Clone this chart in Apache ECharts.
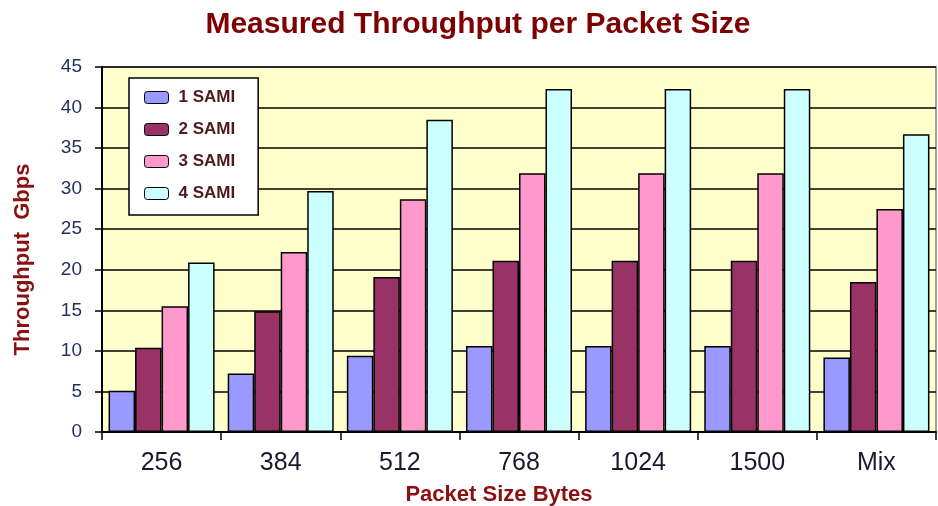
<!DOCTYPE html>
<html>
<head>
<meta charset="utf-8">
<script src="https://cdn.jsdelivr.net/npm/echarts@6/dist/echarts.min.js"></script>
<style>html,body{margin:0;padding:0;background:#fff;}#c{width:938px;height:506px;}</style>
</head>
<body>
<div id="c"></div>
<script>
const categories = ['256', '384', '512', '768', '1024', '1500', 'Mix'];
const sami1 = [5.1, 7.2, 9.4, 10.6, 10.6, 10.6, 9.2];
const sami2 = [10.4, 14.9, 19.1, 21.1, 21.1, 21.1, 18.5];
const sami3 = [15.5, 22.2, 28.7, 31.9, 31.9, 31.9, 27.5];
const sami4 = [20.9, 29.7, 38.5, 42.3, 42.3, 42.3, 36.7];
const seriesNames = ['1 SAMI', '2 SAMI', '3 SAMI', '4 SAMI'];
const colors = ['#9999FF', '#993366', '#FF99CC', '#CCFFFF'];
const allValues = [sami1, sami2, sami3, sami4];

const chart = echarts.init(document.getElementById('c'));
const font = 'Liberation Sans, Arial, sans-serif';
chart.setOption({
  animation: false,
  backgroundColor: '#ffffff',
  title: {
    text: 'Measured Throughput per Packet Size',
    left: 473, top: 5, textAlign: 'center',
    textStyle: { fontFamily: font, fontSize: 30, fontWeight: 'bold', color: '#7F0000' }
  },
  legend: {
    orient: 'vertical',
    left: 129, top: 78,
    padding: [11, 23, 13, 15],
    itemWidth: 24, itemHeight: 12, itemGap: 15,
    backgroundColor: '#ffffff',
    borderColor: '#000', borderWidth: 1.5,
    textStyle: { fontFamily: font, fontSize: 17, fontWeight: 'bold', color: '#4d1a1a', padding: [0, 0, 0, 5] },
    data: seriesNames.map(n => ({ name: n, itemStyle: { borderColor: '#000', borderWidth: 1 } }))
  },
  grid: { left: 102, right: 2, top: 67, bottom: 74, outerBoundsMode: 'none', containLabel: false, show: true, backgroundColor: '#FFFFCC', borderColor: '#A0A0A0', borderWidth: 2 },
  xAxis: {
    type: 'category', data: categories,
    name: 'Packet Size Bytes', nameLocation: 'middle', nameGap: 52,
    nameTextStyle: { fontFamily: font, fontSize: 22, fontWeight: 'bold', color: '#8B1010', padding: [0, 40, 0, 0] },
    axisLine: { lineStyle: { color: '#000', width: 2 } },
    axisTick: { show: true, length: 8, lineStyle: { color: '#000', width: 1.5 } },
    axisLabel: { fontFamily: font, fontSize: 25, color: '#1a1a2e', margin: 19 }
  },
  yAxis: {
    type: 'value', min: 0, max: 45, interval: 5,
    name: 'Throughput  Gbps', nameLocation: 'middle', nameGap: 68,
    nameTextStyle: { fontFamily: font, fontSize: 22, fontWeight: 'bold', color: '#8B1010', padding: [0, 20, 0, 0] },
    axisLine: { show: true, lineStyle: { color: '#000', width: 2 } },
    axisTick: { show: true, length: 7, lineStyle: { color: '#000', width: 1.5 } },
    axisLabel: { fontFamily: font, fontSize: 19, color: '#1F2F5F', margin: 20 },
    splitLine: { lineStyle: { color: '#000', width: 1.5 } }
  },
  series: allValues.map((vals, i) => ({
    name: seriesNames[i], type: 'bar', data: vals,
    barGap: '0%', barCategoryGap: '11%',
    itemStyle: { color: colors[i], borderColor: '#000', borderWidth: 1.5 }
  }))
});
</script>
</body>
</html>
